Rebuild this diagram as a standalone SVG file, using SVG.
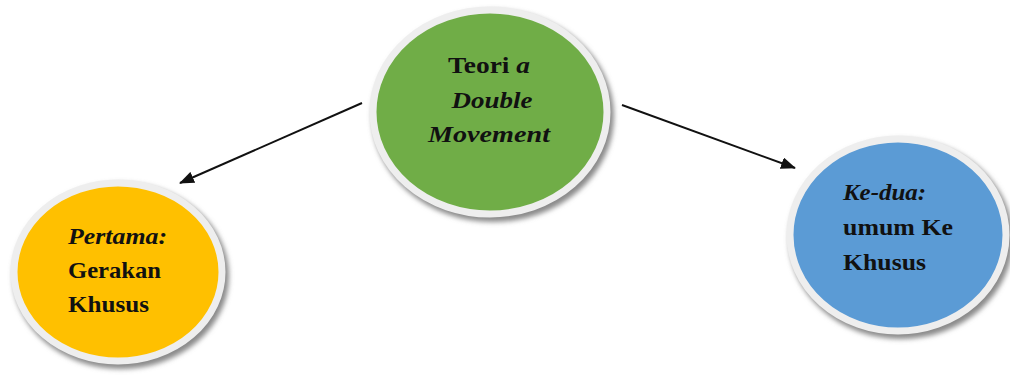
<svg xmlns="http://www.w3.org/2000/svg" width="1010" height="376" viewBox="0 0 1010 376">
<style>
.node-shape{stroke:#eeeeee;stroke-width:7}
.shadow{fill:#8a8a8a;filter:url(#blur)}
.lbl{font-family:"Liberation Serif","Times New Roman",serif;font-weight:bold;font-size:23px;fill:#111}
.it{font-style:italic}
.conn{stroke:#111;stroke-width:2;fill:none;marker-end:url(#arrow)}
</style>
<defs>
<filter id="blur" x="-20%" y="-20%" width="140%" height="140%"><feGaussianBlur stdDeviation="2.5"/></filter>
<marker id="arrow" viewBox="0 0 15 12" refX="14" refY="6" markerWidth="15" markerHeight="12" markerUnits="userSpaceOnUse" orient="auto">
<path d="M0,0 L15,6 L0,12 Z" fill="#111"/>
</marker>
</defs>
<rect width="1010" height="376" fill="#fff"/>
<g id="connectors">
<line class="conn" x1="362" y1="103" x2="180" y2="183"/>
<line class="conn" x1="622" y1="105" x2="795" y2="168"/>
</g>
<g id="node-center">
<ellipse class="shadow" cx="493" cy="116" rx="121" ry="106"/>
<ellipse class="node-shape" cx="490" cy="112" rx="117" ry="102" fill="#70AD47"/>
<text class="lbl" x="489" y="73" text-anchor="middle" textLength="82" lengthAdjust="spacingAndGlyphs">Teori <tspan class="it">a</tspan></text>
<text class="lbl it" x="492" y="108" text-anchor="middle" textLength="81" lengthAdjust="spacingAndGlyphs">Double</text>
<text class="lbl it" x="489" y="142" text-anchor="middle" textLength="122" lengthAdjust="spacingAndGlyphs">Movement</text>
</g>
<g id="node-left">
<ellipse class="shadow" cx="121" cy="276" rx="108" ry="93"/>
<ellipse class="node-shape" cx="118" cy="272" rx="104" ry="89" fill="#FFC000"/>
<text class="lbl it" x="68" y="244" textLength="99" lengthAdjust="spacingAndGlyphs">Pertama:</text>
<text class="lbl" x="68" y="278" textLength="93" lengthAdjust="spacingAndGlyphs">Gerakan</text>
<text class="lbl" x="68" y="312" textLength="81" lengthAdjust="spacingAndGlyphs">Khusus</text>
</g>
<g id="node-right">
<ellipse class="shadow" cx="901" cy="239" rx="112" ry="100"/>
<ellipse class="node-shape" cx="898" cy="235" rx="108" ry="96" fill="#5B9BD5"/>
<text class="lbl it" x="843" y="200" textLength="83" lengthAdjust="spacingAndGlyphs">Ke-dua:</text>
<text class="lbl" x="843" y="235" textLength="110" lengthAdjust="spacingAndGlyphs">umum Ke</text>
<text class="lbl" x="843" y="270" textLength="83" lengthAdjust="spacingAndGlyphs">Khusus</text>
</g>
</svg>
